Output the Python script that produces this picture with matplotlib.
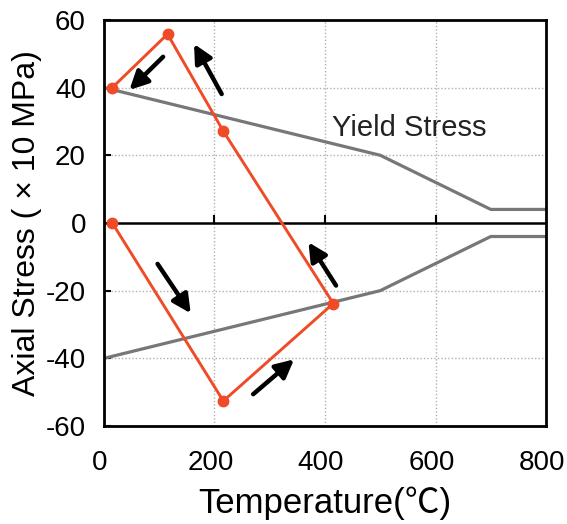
import matplotlib
matplotlib.use('Agg')
import matplotlib.pyplot as plt
import matplotlib.transforms as mtransforms
import numpy as np

plt.rcParams['font.family'] = ['Liberation Sans', 'Noto Sans CJK SC', 'DejaVu Sans']
plt.rcParams['axes.unicode_minus'] = False

# yield stress envelope (temperature, stress x10 MPa)
yield_t = [0, 500, 700, 800]
yield_up = [40, 20, 4, 4]
yield_low = [-40, -20, -4, -4]

# stress path of the cycle
path_t = [15, 216, 415, 216, 115, 15]
path_s = [0, -52.6, -23.8, 27.1, 55.8, 40]

# direction arrows: (tail_t, tail_s, head_t, head_s)
arrows = [
    (107, 49.1, 46, 39.3),
    (213, 38.1, 163, 52.9),
    (420, -18.5, 370, -5.7),
    (97, -12.1, 157, -26.7),
    (270, -50.6, 344, -40.3),
]

xticks = [0, 200, 400, 600, 800]
yticks = [-60, -40, -20, 0, 20, 40, 60]

fig = plt.figure(figsize=(5.67, 5.24), dpi=100)
ax = fig.add_axes([0.1834, 0.187, 0.7796, 0.775])

for x in [200, 400, 600]:
    ax.axvline(x, color='#b0b0b0', lw=1, ls=(0, (1, 1.5)), zorder=0)
for y in [-40, -20, 20, 40]:
    ax.axhline(y, color='#b0b0b0', lw=1, ls=(0, (1, 1.5)), zorder=0)
ax.axhline(0, color='black', lw=1.8, zorder=1)
ax.plot(xticks[1:-1], np.zeros(3), ls='none', marker=2, ms=6, mew=1.5, color='black', zorder=1)

ax.plot(yield_t, yield_up, color='#777777', lw=2.3, zorder=2)
ax.plot(yield_t, yield_low, color='#777777', lw=2.3, zorder=2)
ax.plot(path_t, path_s, color='#ee4b26', lw=2.1, marker='o', ms=7.5, zorder=3)

for t0, s0, t1, s1 in arrows:
    ax.annotate('', xy=(t1, s1), xytext=(t0, s0),
                arrowprops=dict(arrowstyle='-|>,head_length=0.5,head_width=0.25', color='black',
                                lw=3.2, mutation_scale=22, shrinkA=0, shrinkB=0), zorder=4)

ax.text(412, 28, 'Yield Stress', fontsize=21, va='center', ha='left', color='#222222')

ax.set_xlim(0, 800)
ax.set_ylim(-60, 60)
ax.set_xticks(xticks)
ax.set_yticks(yticks)
ax.tick_params(axis='x', length=0, labelsize=20, pad=17)
ax.tick_params(axis='y', direction='in', length=5, width=1.5, labelsize=20, pad=13)
for s in ax.spines.values():
    s.set_linewidth(2)

# labels sit a little left of their ticks, like the original
shift = mtransforms.ScaledTranslation(-4 / 100, 0, fig.dpi_scale_trans)
for lab in ax.get_xticklabels():
    lab.set_transform(lab.get_transform() + shift)

ax.set_xlabel('Temperature(℃)', fontsize=25, labelpad=8)
ax.set_ylabel('Axial Stress ( × 10 MPa)', fontsize=23, labelpad=3)

fig.savefig('out.png', dpi=100)
